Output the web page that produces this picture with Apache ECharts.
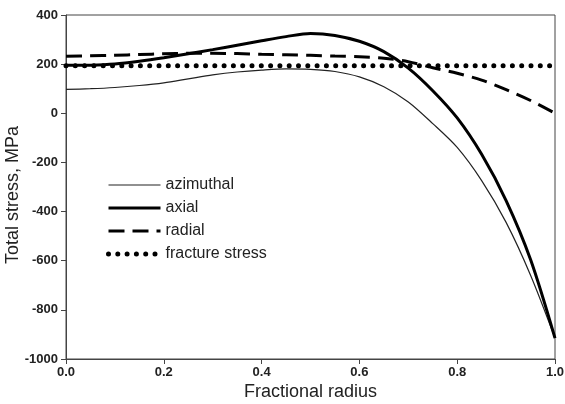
<!DOCTYPE html>
<html>
<head>
<meta charset="utf-8">
<script src="https://cdn.jsdelivr.net/npm/echarts@6/dist/echarts.min.js"></script>
<style>
html,body{margin:0;padding:0;background:#fff;}
#c{width:565px;height:404px;}
</style>
</head>
<body>
<div id="c"></div>
<script>
var radius = [0, 0.05, 0.1, 0.15, 0.2, 0.25, 0.3, 0.35, 0.4, 0.45, 0.5, 0.55, 0.6, 0.65, 0.7, 0.75, 0.8, 0.85, 0.9, 0.95, 1.0];
var azimuthal = [97, 100, 105, 113, 124, 140, 156, 168, 176, 181, 179, 170, 148, 108, 46, -42, -139, -274, -444, -659, -915];
var axial = [195, 196, 201, 212, 226, 242, 259, 277, 295, 312, 325, 317, 293, 251, 184, 92, -19, -167, -355, -595, -915];
var radial = [232, 234, 236, 239, 242, 244, 244, 243, 240, 238, 236, 233, 230, 224, 210, 185, 163, 135, 96, 52, 0];
var fractureX = [0, 1.0];
var fracture = [193, 193];
var yTicks = [-1000, -800, -600, -400, -200, 0, 200, 400];
var xTicks = [0, 0.2, 0.4, 0.6, 0.8, 1.0];
var seriesNames = ['azimuthal', 'axial', 'radial', 'fracture stress'];

function pairs(xs, ys) { return xs.map(function (x, i) { return [x, ys[i]]; }); }

var styles = [
  {color: '#222', width: 1.2, type: 'solid'},
  {color: '#000', width: 3, type: 'solid'},
  {color: '#000', width: 3, type: [16, 8]},
  {color: '#000', width: 5, type: [0, 9.3], cap: 'round'}
];

var chart = echarts.init(document.getElementById('c'), null, {renderer: 'canvas'});
var axisText = {color: '#222', fontFamily: 'Liberation Sans, Arial, sans-serif', fontWeight: 'bold', fontSize: 13};
chart.setOption({
  animation: false,
  backgroundColor: '#fff',
  grid: {left: 66, right: 10, top: 15, bottom: 45, show: true, borderColor: '#444', borderWidth: 1,
         containLabel: false, outerBoundsMode: 'none'},
  legend: {
    orient: 'vertical', left: 106, top: 177, padding: 0, itemWidth: 52, itemHeight: 14, itemGap: 7,
    data: seriesNames.map(function (n, i) {
      return {name: n, itemStyle: {opacity: 0}, lineStyle: styles[i]};
    }),
    itemStyle: {opacity: 0},
    textStyle: {color: '#222', fontFamily: 'Liberation Sans, Arial, sans-serif', fontSize: 16}
  },
  xAxis: {
    type: 'value', min: 0, max: 1, interval: 0.2,
    name: 'Fractional radius', nameLocation: 'middle', nameGap: 24, nameMoveOverlap: false,
    nameTextStyle: {color: '#222', fontFamily: 'Liberation Sans, Arial, sans-serif', fontSize: 18},
    axisLine: {show: true, onZero: false, lineStyle: {color: '#444', width: 1}},
    axisTick: {show: true, inside: false, length: 5, lineStyle: {color: '#444'}},
    axisLabel: Object.assign({margin: 7, formatter: function (v) { return v.toFixed(1); }}, axisText),
    splitLine: {show: false}
  },
  yAxis: {
    type: 'value', min: -1000, max: 400, interval: 200,
    name: 'Total stress, MPa', nameLocation: 'middle', nameGap: 44, nameRotate: 90, nameMoveOverlap: false,
    nameTextStyle: {color: '#222', fontFamily: 'Liberation Sans, Arial, sans-serif', fontSize: 18, padding: [0, 16, 0, 0]},
    axisLine: {show: true, onZero: false, lineStyle: {color: '#444', width: 1}},
    axisTick: {show: true, inside: false, length: 5, lineStyle: {color: '#444'}},
    axisLabel: Object.assign({margin: 8, formatter: function (v) { return String(v); }}, axisText),
    splitLine: {show: false}
  },
  series: [
    {name: seriesNames[0], type: 'line', data: pairs(radius, azimuthal), smooth: 0.3, showSymbol: false, symbol: 'none',
     lineStyle: styles[0], itemStyle: {color: '#222'}, z: 3},
    {name: seriesNames[1], type: 'line', data: pairs(radius, axial), smooth: 0.3, showSymbol: false, symbol: 'none',
     lineStyle: styles[1], itemStyle: {color: '#000'}, z: 4},
    {name: seriesNames[2], type: 'line', data: pairs(radius, radial), smooth: 0.3, showSymbol: false, symbol: 'none',
     lineStyle: styles[2], itemStyle: {color: '#000'}, z: 2},
    {name: seriesNames[3], type: 'line', data: pairs(fractureX, fracture), showSymbol: false, symbol: 'none',
     lineStyle: styles[3], itemStyle: {color: '#000'}, z: 1}
  ]
});
</script>
</body>
</html>
